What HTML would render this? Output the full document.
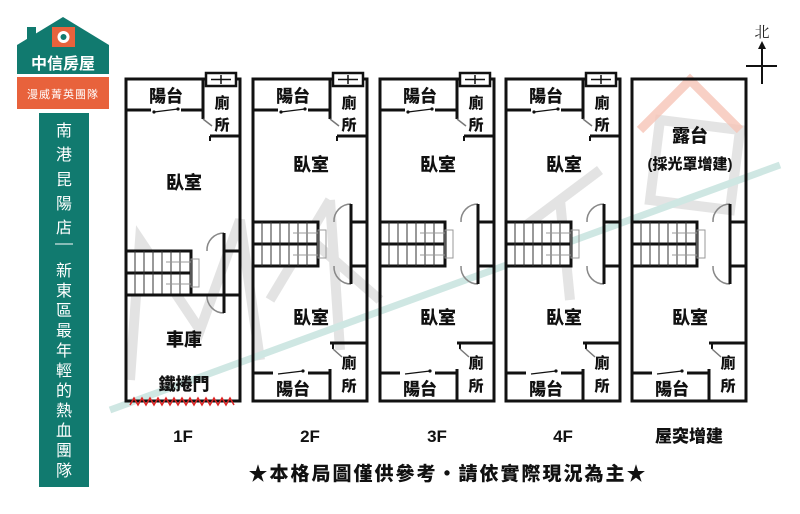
<!DOCTYPE html>
<html><head><meta charset="utf-8"><style>
html,body{margin:0;padding:0;background:#fff;width:800px;height:514px;overflow:hidden}
svg{display:block}
.t{font-family:"Liberation Sans","Noto Sans CJK TC",sans-serif;font-weight:900;fill:#111;text-anchor:middle}
</style></head><body>
<svg width="800" height="514" viewBox="0 0 800 514" xmlns="http://www.w3.org/2000/svg">
<defs>
<g id="top">
  <rect x="0" y="0" width="114" height="322" fill="none" stroke="#111" stroke-width="3"/>
  <rect x="80" y="-6" width="30" height="13" fill="#fff" stroke="#111" stroke-width="2.5"/>
  <line x1="85" y1="0.5" x2="105" y2="0.5" stroke="#111" stroke-width="1.5"/>
  <line x1="95" y1="-4" x2="95" y2="5" stroke="#111" stroke-width="1.5"/>
  <line x1="77" y1="0" x2="77" y2="31" stroke="#111" stroke-width="3"/>
  <line x1="0" y1="31" x2="25" y2="31" stroke="#111" stroke-width="3"/>
  <line x1="55" y1="31" x2="77" y2="31" stroke="#111" stroke-width="3"/>
  <line x1="28" y1="33" x2="52" y2="30" stroke="#111" stroke-width="1.2"/>
  <circle cx="28" cy="33" r="1.6" fill="#111"/><circle cx="52" cy="30" r="1.6" fill="#111"/>
  <line x1="77" y1="31" x2="77" y2="40" stroke="#111" stroke-width="3"/>
  <line x1="77" y1="40" x2="86" y2="47" stroke="#777" stroke-width="1.5"/>
  <line x1="84" y1="57" x2="114" y2="57" stroke="#111" stroke-width="3"/>
  <line x1="84" y1="57" x2="84" y2="62" stroke="#111" stroke-width="2"/>
  <text class="t" x="40" y="23" font-size="17">陽台</text>
  <text class="t" x="96" y="29" font-size="15">廁</text>
  <text class="t" x="96" y="51" font-size="15">所</text>
</g>
<g id="bot">
  <line x1="77" y1="264" x2="114" y2="264" stroke="#111" stroke-width="3"/>
  <line x1="80" y1="264" x2="80" y2="270" stroke="#111" stroke-width="2"/>
  <line x1="80" y1="270" x2="89" y2="278" stroke="#777" stroke-width="1.5"/>
  <line x1="77" y1="290" x2="77" y2="322" stroke="#111" stroke-width="3"/>
  <line x1="0" y1="294" x2="20" y2="294" stroke="#111" stroke-width="3"/>
  <line x1="55" y1="294" x2="77" y2="294" stroke="#111" stroke-width="3"/>
  <line x1="25" y1="295" x2="50" y2="292" stroke="#111" stroke-width="1.2"/>
  <circle cx="50" cy="292" r="1.6" fill="#111"/>
  <text class="t" x="40" y="316" font-size="17">陽台</text>
  <text class="t" x="96" y="289" font-size="15">廁</text>
  <text class="t" x="96" y="312" font-size="15">所</text>
</g>
<g id="stairs">
  <rect x="0" y="0" width="65" height="44" fill="#fff" stroke="#111" stroke-width="3"/>
  <line x1="0" y1="22" x2="65" y2="22" stroke="#111" stroke-width="3"/>
  <g stroke="#333" stroke-width="1">
    <line x1="9" y1="0" x2="9" y2="44"/><line x1="18" y1="0" x2="18" y2="44"/><line x1="27" y1="0" x2="27" y2="44"/>
    <line x1="36" y1="0" x2="36" y2="44"/><line x1="45" y1="0" x2="45" y2="44"/><line x1="54" y1="0" x2="54" y2="44"/>
    <line x1="40" y1="11" x2="65" y2="11" stroke="#999"/><line x1="40" y1="33" x2="65" y2="33" stroke="#999"/>
    <rect x="65" y="8" width="8" height="28" fill="none" stroke="#999"/>
  </g>
  <path d="M114 0 L98 0 L98 44 L114 44" fill="none" stroke="#111" stroke-width="3"/>
  <path d="M98 -18 A17 17 0 0 0 81 0" fill="none" stroke="#888" stroke-width="1.5"/>
  <path d="M98 62 A17 17 0 0 1 81 44" fill="none" stroke="#888" stroke-width="1.5"/>
  <line x1="98" y1="-18" x2="98" y2="0" stroke="#111" stroke-width="3"/>
  <line x1="98" y1="44" x2="98" y2="62" stroke="#111" stroke-width="3"/>
</g>
</defs>

<g fill="none" stroke="#d8d8d8" stroke-width="10" opacity="0.7">
  <path d="M130 380 L140 240 L200 330 L240 220 L260 360"/>
  <path d="M270 300 L330 200 M300 230 L380 300 M330 200 L340 350"/>
  <path d="M520 230 L600 170 M560 200 L570 300"/>
  <path d="M650 200 L660 120 L740 130 L730 210 Z"/>
</g>
<path d="M640 130 L690 80 L740 130" fill="none" stroke="#f6c4b6" stroke-width="9" opacity="0.8"/>
<path d="M110 410 L780 165" stroke="#cfe7e3" stroke-width="7" fill="none"/>

<path d="M17 74 L17 45 L63 17 L109 45 L109 74 Z" fill="#117a6f"/>
<rect x="27" y="27" width="9" height="15" fill="#117a6f"/>
<rect x="52" y="27" width="23" height="20" fill="#e8623c"/>
<circle cx="63.5" cy="37" r="6" fill="#fff"/><circle cx="63.5" cy="37" r="3" fill="#117a6f"/>
<text x="63" y="69" font-family="Liberation Sans,'Noto Sans CJK TC',sans-serif" font-size="16" font-weight="700" fill="#fff" text-anchor="middle">中信房屋</text>
<rect x="17" y="77" width="92" height="32" fill="#e8623c"/>
<text x="63" y="98" font-family="Liberation Sans,'Noto Sans CJK TC',sans-serif" font-size="11" fill="#fff" text-anchor="middle" letter-spacing="1">漫威菁英團隊</text>
<rect x="39" y="113" width="50" height="374" fill="#117a6f"/>
<g font-family="Liberation Sans,'Noto Sans CJK TC',sans-serif" font-size="16" fill="#fff" text-anchor="middle">
<text x="64" y="136">南</text><text x="64" y="160">港</text><text x="64" y="185">昆</text><text x="64" y="209">陽</text><text x="64" y="233">店</text>
<line x1="55" y1="244" x2="73" y2="244" stroke="#fff" stroke-width="1"/>
<text x="64" y="276">新</text><text x="64" y="296">東</text><text x="64" y="316">區</text><text x="64" y="336">最</text><text x="64" y="356">年</text><text x="64" y="376">輕</text><text x="64" y="396">的</text><text x="64" y="416">熱</text><text x="64" y="436">血</text><text x="64" y="456">團</text><text x="64" y="476">隊</text>
</g>

<g transform="translate(126,79)">
  <use href="#top"/>
  <text class="t" x="58" y="110" font-size="18">臥室</text>
  <use href="#stairs" transform="translate(0,172)"/>
  <line x1="0" y1="216" x2="114" y2="216" stroke="#111" stroke-width="3"/>
  <text class="t" x="58" y="267" font-size="18">車庫</text>
  <text class="t" x="58" y="311" font-size="17">鐵捲門</text>
  <path d="M4 326 l4 -7 l4 7 l4 -7 l4 7 l4 -7 l4 7 l4 -7 l4 7 l4 -7 l4 7 l4 -7 l4 7 l4 -7 l4 7 l4 -7 l4 7 l4 -7 l4 7 l4 -7 l4 7 l4 -7 l4 7 l4 -7 l4 7 l4 -7 l4 7" fill="none" stroke="#d22" stroke-width="1.5"/>
</g>
<g transform="translate(253,79)"><use href="#top"/><text class="t" x="58" y="92" font-size="18">臥室</text><use href="#stairs" transform="translate(0,143)"/><text class="t" x="58" y="245" font-size="18">臥室</text><use href="#bot"/></g>
<g transform="translate(380,79)"><use href="#top"/><text class="t" x="58" y="92" font-size="18">臥室</text><use href="#stairs" transform="translate(0,143)"/><text class="t" x="58" y="245" font-size="18">臥室</text><use href="#bot"/></g>
<g transform="translate(506,79)"><use href="#top"/><text class="t" x="58" y="92" font-size="18">臥室</text><use href="#stairs" transform="translate(0,143)"/><text class="t" x="58" y="245" font-size="18">臥室</text><use href="#bot"/></g>
<g transform="translate(632,79)">
  <rect x="0" y="0" width="114" height="322" fill="none" stroke="#111" stroke-width="3"/>
  <text class="t" x="58" y="63" font-size="18">露台</text>
  <text class="t" x="58" y="90" font-size="15">(採光罩增建)</text>
  <use href="#stairs" transform="translate(0,143)"/>
  <text class="t" x="58" y="245" font-size="18">臥室</text>
  <use href="#bot"/>
</g>

<text class="t" x="183" y="442" font-size="17">1F</text>
<text class="t" x="310" y="442" font-size="17">2F</text>
<text class="t" x="437" y="442" font-size="17">3F</text>
<text class="t" x="563" y="442" font-size="17">4F</text>
<text class="t" x="689" y="442" font-size="17">屋突增建</text>
<text class="t" x="448" y="480" font-size="19" letter-spacing="2">★本格局圖僅供參考・請依實際現況為主★</text>

<text x="762" y="37" font-family="Liberation Serif,'Noto Serif CJK SC',serif" font-size="15" fill="#222" text-anchor="middle">北</text>
<line x1="762" y1="45" x2="762" y2="84" stroke="#111" stroke-width="2"/>
<path d="M758 49 L762 41 L766 49 Z" fill="#111"/>
<line x1="746" y1="66" x2="777" y2="66" stroke="#111" stroke-width="2"/>
</svg>
</body></html>
